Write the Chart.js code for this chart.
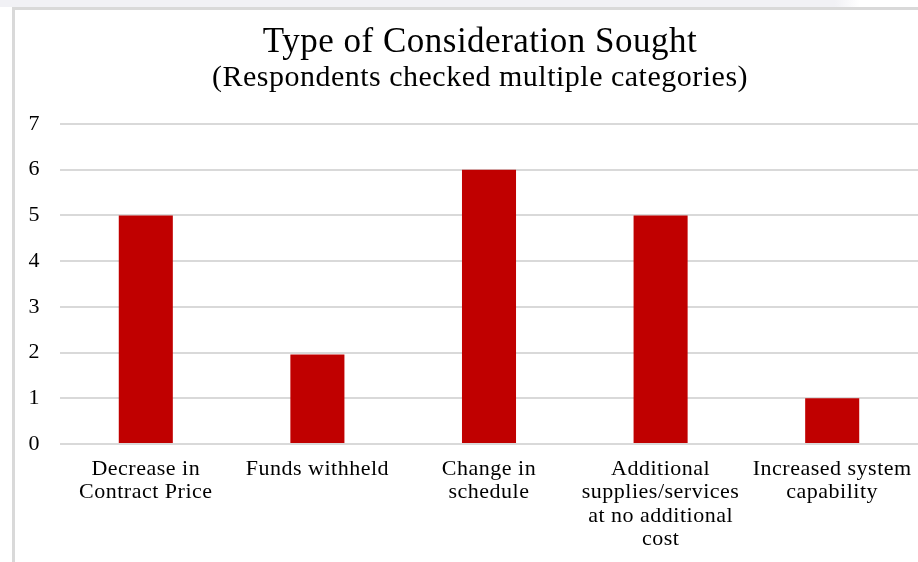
<!DOCTYPE html>
<html>
<head>
<meta charset="utf-8">
<script src="https://cdn.jsdelivr.net/npm/chart.js@4.4.1/dist/chart.umd.min.js"></script>
<style>
    html, body { margin: 0; padding: 0; background: #fff; overflow: hidden; }
    body { width: 918px; height: 562px; position: relative; }
    .strip {
        position: absolute; left: 0; top: 0; width: 860px; height: 7px;
        background: linear-gradient(to right, #f1f1f5 0, #f1f1f5 835px, #fff 860px);
    }
    .frame {
        position: absolute; left: 12px; top: 7px; width: 933px; height: 555px;
        border-left: 3px solid #d9d9d9; border-top: 3px solid #d9d9d9;
    }
    .frame canvas { display: block; }
</style>
</head>
<body>
<div class="strip"></div>
<div class="frame">
    <canvas id="considerationChart" width="930" height="552"></canvas>
</div>
<script>
// ── Data ─────────────────────────────────────────────────────────────────────
const categories = [
    ['Decrease in', 'Contract Price'],
    ['Funds withheld'],
    ['Change in', 'schedule'],
    ['Additional', 'supplies/services', 'at no additional', 'cost'],
    ['Increased system', 'capability']
];
const counts = [5, 1.96, 6, 5, 1];
const yTicks = [0, 1, 2, 3, 4, 5, 6, 7];

const SERIF = "'Liberation Serif', 'Times New Roman', serif";

// slight tracking like the original rendering
const tracking = {
    id: 'tracking',
    beforeLayout(chart) { chart.ctx.letterSpacing = '0.5px'; },
    beforeDraw(chart) { chart.ctx.letterSpacing = '0.5px'; }
};

// titles span the whole canvas, not just the padded area
const fullWidthTitles = {
    id: 'fullWidthTitles',
    afterLayout(chart) {
        chart.boxes.forEach(box => {
            if (box.position === 'top' && box.options && typeof box.options.text === 'string') {
                box.left = 0;
                box.right = chart.width;
                box.width = chart.width;
            }
        });
    }
};

// ── Chart setup ──────────────────────────────────────────────────────────────
const ctx = document.getElementById('considerationChart').getContext('2d');
const chart = new Chart(ctx, {
    type: 'bar',
    data: {
        labels: categories,
        datasets: [{
            data: counts,
            backgroundColor: '#c00000',
            borderWidth: 0,
            barPercentage: 0.315,
            categoryPercentage: 1
        }]
    },
    options: {
        responsive: false,
        animation: false,
        layout: { padding: { left: 0, right: 27, top: 0, bottom: 0 } },
        plugins: {
            legend: { display: false },
            tooltip: { enabled: false },
            title: {
                display: true,
                text: 'Type of Consideration Sought',
                color: '#000',
                font: { family: SERIF, size: 35, weight: 'normal', lineHeight: 1 },
                padding: { top: 15, bottom: 0 }
            },
            subtitle: {
                display: true,
                text: '(Respondents checked multiple categories)',
                color: '#000',
                font: { family: SERIF, size: 30, weight: 'normal', lineHeight: 1 },
                padding: { top: 3, bottom: 31 }
            }
        },
        scales: {
            x: {
                grid: { display: false },
                border: { display: false },
                ticks: {
                    color: '#000',
                    font: { family: SERIF, size: 22, lineHeight: 1.07 },
                    maxRotation: 0,
                    autoSkip: false,
                    padding: 5
                },
                afterFit(scale) { scale.height = 118; }
            },
            y: {
                min: 0,
                max: 7,
                afterBuildTicks(scale) { scale.ticks = yTicks.map(v => ({ value: v })); },
                grid: { color: '#d9d9d9', lineWidth: 2, drawTicks: false },
                border: { display: false },
                ticks: {
                    color: '#000',
                    font: { family: SERIF, size: 22 },
                    padding: 20
                },
                afterFit(scale) { scale.width = 45; }
            }
        }
    },
    plugins: [tracking, fullWidthTitles]
});
</script>
</body>
</html>
